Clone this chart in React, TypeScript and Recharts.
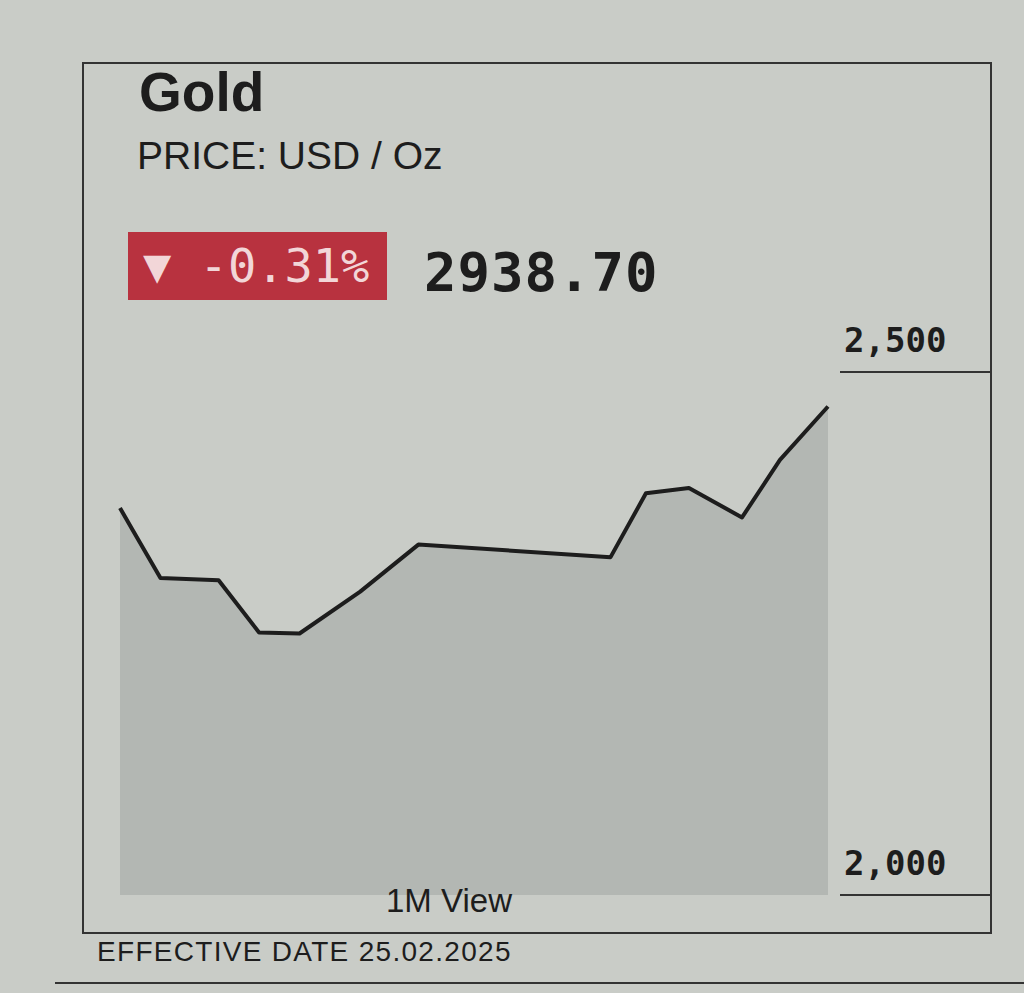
import { AreaChart, Area, XAxis, YAxis } from 'recharts'

// day offsets within the 1M window and the gold price
const days = [0, 0.5, 1.6, 3.9, 5.5, 7.1, 9.5, 11.8, 19.4, 20.8, 22.5, 24.6, 26.1, 28]
const prices = [2370, 2349, 2303, 2301, 2251, 2250, 2290, 2335, 2323, 2384, 2389, 2361, 2416, 2467]
const yTicks = [2000, 2500]
const tickLabels = ['2,000', '2,500']

const data = days.map((d, i) => ({ day: d, price: prices[i] }))

const PAPER = '#c9ccc7'
const FILL = '#b3b7b3'
const INK = '#1d1d1d'
const MONO = '"DejaVu Sans Mono", "Liberation Mono", monospace'
const SANS = '"Liberation Sans", Arial, sans-serif'

function PriceTick(props: any) {
  const { y, payload } = props
  const label = tickLabels[yTicks.indexOf(payload.value)]
  return (
    <g>
      <text x={844} y={y - 20} fontFamily={MONO} fontWeight="bold" fontSize={34} fill={INK}>
        {label}
      </text>
      <line x1={840} x2={990} y1={y} y2={y} stroke="#333" strokeWidth={2} />
    </g>
  )
}

export default function App() {
  return (
    <div style={{ position: 'absolute', left: 0, top: 0, width: 1024, height: 993, background: PAPER, overflow: 'hidden' }}>
      <div style={{ position: 'absolute', left: 82, top: 62, width: 906, height: 868, border: '2px solid #333' }} />

      <div style={{ position: 'absolute', left: 139, top: 60, fontFamily: SANS, fontWeight: 'bold', fontSize: 55, color: INK }}>
        Gold
      </div>
      <div style={{ position: 'absolute', left: 137, top: 134, fontFamily: SANS, fontSize: 39, color: INK }}>
        PRICE: USD / Oz
      </div>

      <div style={{ position: 'absolute', left: 128, top: 232, width: 259, height: 68, background: '#b8323f' }} />
      <div style={{ position: 'absolute', left: 143, top: 236, fontFamily: MONO, fontSize: 47, color: '#f2d6d8', lineHeight: '60px' }}>
        ▼ -0.31%
      </div>
      <div style={{ position: 'absolute', left: 424, top: 243, fontFamily: MONO, fontWeight: 'bold', fontSize: 54, color: INK, letterSpacing: 1, lineHeight: '60px' }}>
        2938.70
      </div>

      <div style={{ position: 'absolute', left: 0, top: 0 }}>
        <AreaChart width={1024} height={993} data={data} margin={{ top: 372, right: 36, bottom: 98, left: 120 }}>
          <XAxis dataKey="day" type="number" domain={[0, 28]} hide />
          <YAxis
            orientation="right"
            domain={[2000, 2500]}
            ticks={yTicks}
            width={160}
            axisLine={false}
            tickLine={false}
            tick={<PriceTick />}
          />
          <Area
            type="linear"
            dataKey="price"
            stroke={INK}
            strokeWidth={4}
            fill={FILL}
            fillOpacity={1}
            strokeLinejoin="round"
            isAnimationActive={false}
          />
        </AreaChart>
      </div>

      <div style={{ position: 'absolute', left: 0, width: 898, top: 882, textAlign: 'center', fontFamily: SANS, fontSize: 33, color: INK }}>
        1M View
      </div>

      <div style={{ position: 'absolute', left: 97, top: 936, fontFamily: SANS, fontSize: 28, color: INK, letterSpacing: 1.3 }}>
        EFFECTIVE DATE 25.02.2025
      </div>
      <div style={{ position: 'absolute', left: 55, width: 969, top: 982, height: 2, background: '#333' }} />
    </div>
  )
}
